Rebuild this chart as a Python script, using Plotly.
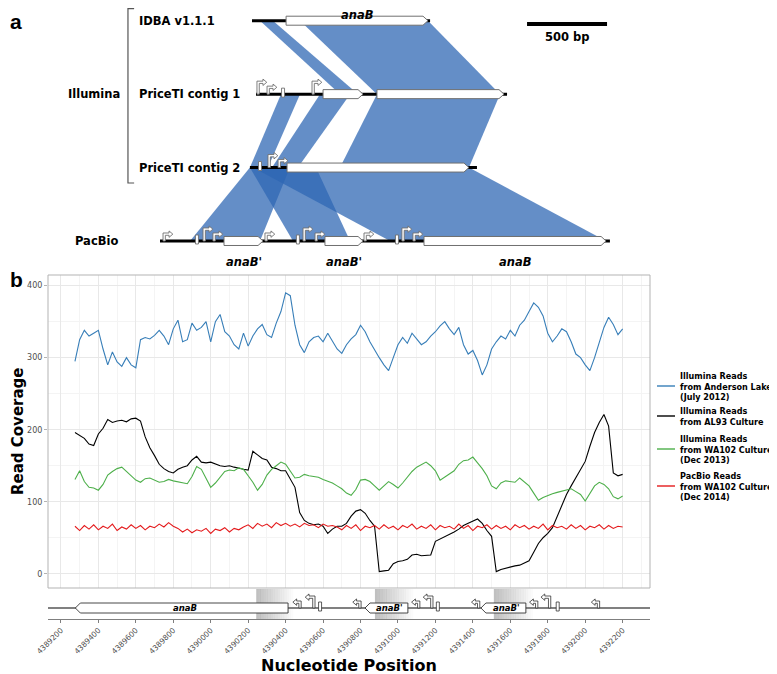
import plotly.graph_objects as go

# the page body keeps an 8 px margin, so the figure is sized to fill the rest of the window
OX, OY = 8, 8
W, H = 777 - OX, 674 - OY

# ---------------- panel b: read coverage (every 25 bp) ----------------
positions = list(range(4389275, 4392201, 25))

anderson_lake = [
    295, 325, 338, 330, 334, 338, 312, 290, 308, 294,
    288, 300, 290, 286, 325, 328, 326, 331, 338, 330,
    318, 340, 352, 322, 325, 348, 338, 342, 350, 322,
    350, 360, 336, 330, 318, 312, 334, 316, 330, 340,
    346, 332, 328, 348, 364, 390, 386, 345, 318, 307,
    322, 328, 330, 322, 334, 323, 312, 306, 318, 326,
    332, 345, 336, 322, 310, 300, 290, 282, 300, 318,
    328, 320, 334, 326, 318, 322, 330, 336, 344, 350,
    340, 332, 342, 318, 305, 310, 296, 276, 290, 312,
    322, 330, 326, 338, 330, 345, 352, 364, 376, 370,
    358, 334, 322, 330, 340, 336, 322, 305, 300, 290,
    282, 300, 320, 342, 356, 346, 332, 340,
]
al93_culture = [
    196, 192, 188, 180, 178, 194, 202, 214, 210, 212,
    213, 211, 215, 216, 212, 190, 175, 164, 152, 146,
    142, 140, 145, 148, 150, 158, 163, 155, 154, 155,
    152, 150, 149, 150, 148, 146, 145, 144, 170, 165,
    160, 158, 148, 146, 143, 143, 132, 120, 85, 74,
    70, 68, 69, 66, 56, 62, 66, 66, 70, 80,
    87, 89, 84, 74, 66, 3, 4, 5, 14, 17,
    18, 20, 26, 27, 25, 25, 26, 45, 48, 51,
    55, 58, 62, 67, 70, 73, 76, 70, 60, 52,
    3, 6, 8, 10, 11, 12, 15, 18, 30, 42,
    50, 56, 64, 80, 96, 110, 122, 134, 146, 156,
    177, 196, 210, 221, 205, 140, 136, 138,
]
wa102_illumina = [
    131, 143, 128, 120, 119, 116, 124, 137, 142, 146,
    148, 142, 135, 130, 127, 132, 133, 130, 127, 128,
    131, 129, 128, 127, 125, 135, 149, 145, 133, 120,
    126, 134, 142, 144, 143, 147, 145, 136, 127, 116,
    124, 137, 145, 150, 155, 152, 142, 133, 134, 138,
    136, 135, 134, 131, 129, 126, 122, 118, 112, 109,
    117, 130, 131, 128, 122, 116, 122, 128, 124, 119,
    126, 134, 142, 148, 152, 155, 150, 143, 130, 134,
    138, 143, 152, 157, 158, 162, 154, 146, 136, 122,
    118, 126, 129, 128, 127, 133, 127, 122, 112, 102,
    106, 109, 111, 113, 115, 117, 118, 114, 110, 101,
    112, 122, 127, 124, 118, 107, 104, 108,
]
wa102_pacbio = [
    66, 60, 67, 62, 68, 61, 66, 63, 69, 60,
    65, 62, 68, 63, 67, 61, 66, 64, 69, 65,
    71, 66, 63, 58, 62, 57, 61, 59, 63, 56,
    62, 60, 64, 58, 63, 61, 65, 68, 63, 70,
    66, 69, 64, 71, 67, 70, 66, 69, 65, 70,
    67, 68, 64, 69, 66, 67, 65, 61, 67, 63,
    68, 60, 66, 64, 67, 62, 68, 63, 66, 61,
    67, 64, 69, 62, 66, 63, 68, 61, 67, 64,
    66, 62, 69, 63, 67, 60, 66, 64, 68, 62,
    67, 63, 66, 61, 68, 64, 67, 62, 66, 63,
    69, 61, 67, 64, 66, 62, 68, 63, 67, 61,
    66, 64, 68, 62, 67, 63, 66, 65,
]

series = [anderson_lake, al93_culture, wa102_illumina, wa102_pacbio]
series_names = [
    'Illumina Reads<br>from Anderson Lake<br>(July 2012)',
    'Illumina Reads<br>from AL93 Culture',
    'Illumina Reads<br>from WA102 Culture<br>(Dec 2013)',
    'PacBio Reads<br>from WA102 Culture<br>(Dec 2014)',
]
series_colors = ['#377EB8', '#000000', '#4DAF4A', '#E41A1C']

# gene track under panel b (genomic coordinates)
b_gene_start = [4389277, 4390824, 4391443]
b_gene_end = [4390413, 4391053, 4391683]
b_gene_label = ['anaB', "anaB'", "anaB'"]
b_feat_pos = [4390483, 4390557, 4390584, 4390803, 4391117, 4391187,
              4391213, 4391437, 4391747, 4391816, 4391853, 4392077]
b_feat_kind = ['short', 'tall', 'term', 'short', 'short', 'tall',
               'term', 'short', 'short', 'tall', 'term', 'short']
b_shade_start = [4390243, 4390877, 4391512]
b_shade_end = [4390440, 4391080, 4391720]

# ---------------- panel a: assemblies (bp along the drawing) ----------------
a_tracks = ['IDBA v1.1.1', 'PriceTI contig 1', 'PriceTI contig 2', 'PacBio']
a_track_start = [575, 600, 562, 0]
a_track_end = [1688, 2169, 1981, 2812]

a_gene_track = [0, 1, 1, 2, 3, 3, 3]
a_gene_start = [788, 1019, 1356, 794, 400, 1031, 1650]
a_gene_end = [1675, 1269, 2150, 1931, 644, 1269, 2788]
a_gene_label = ['anaB', '', '', '', "anaB'", "anaB'", 'anaB']

a_feat_track = [1, 1, 1, 1, 2, 2, 2, 3, 3, 3, 3, 3, 3, 3, 3, 3, 3, 3, 3]
a_feat_pos = [606, 669, 769, 950, 625, 675, 738,
              19, 231, 269, 331, 656, 862, 894, 969, 1275, 1481, 1512, 1581]
a_feat_kind = ['tall', 'short', 'term', 'tall', 'term', 'tall', 'short',
               'short', 'term', 'tall', 'short', 'short', 'term', 'tall', 'short',
               'short', 'term', 'tall', 'short']

# alignments: top track, bottom track, top start/end, bottom start/end
aln_top = [0, 0, 1, 1, 1, 2, 2, 2]
aln_bottom = [1, 1, 2, 2, 2, 3, 3, 3]
aln_top_start = [625, 875, 756, 1000, 1356, 562, 562, 581]
aln_top_end = [706, 1675, 875, 1188, 2125, 812, 975, 1931]
aln_bot_start = [1125, 1356, 562, 700, 1125, 188, 831, 1438]
aln_bot_end = [1238, 2125, 675, 862, 1931, 625, 1188, 2788]

scale_bp = 500

# ---------------- layout helpers (window pixels -> paper) ----------------
def px(v):
    return (v - OX) / W


def py(v):
    return 1 - (v - OY) / H


BP_PX_A = 6.25          # bp per pixel in panel a
TRACK_PX = 73.43        # pixels between assembly rows
BP_PX_B = 200 / 37.5    # bp per pixel in panel b

XB = [4389131, 4392346]
B_DOM = [px(48), px(650)]


def poly(pts, close=True):
    p = 'M ' + ' L '.join(f'{x:.3f},{y:.5f}' for x, y in pts)
    return p + ' Z' if close else p


def gene_box(x0, x1, yc, hh, tip, xs, ys, point):
    t = tip * xs
    if point > 0:
        pts = [(x0, yc - hh * ys), (x1 - t, yc - hh * ys), (x1, yc),
               (x1 - t, yc + hh * ys), (x0, yc + hh * ys)]
    else:
        pts = [(x1, yc - hh * ys), (x0 + t, yc - hh * ys), (x0, yc),
               (x0 + t, yc + hh * ys), (x1, yc + hh * ys)]
    return poly(pts)


def bent_arrow(x0, yc, h, arm, direction, xs, up):
    s, hh, hl = 2.3, 3.2, 3.8
    pts = [(0, 0), (0, h), (arm, h), (arm, h - s / 2 + hh), (arm + hl, h - s / 2),
           (arm, h - s / 2 - hh), (arm, h - s), (s, h - s), (s, 0)]
    return poly([(x0 + direction * dx * xs, yc + dy * up) for dx, dy in pts])


def terminator(x0, yc, xs, up):
    pts = [(-1.5, -3), (-1.5, 6), (1.5, 6), (1.5, -3)]
    return poly([(x0 + dx * xs, yc + dy * up) for dx, dy in pts])


fig = go.Figure()
shapes = []
annotations = []

# ---------------- panel a ----------------
up_a = -1 / TRACK_PX
for i in range(len(aln_top)):
    y0, y1 = aln_top[i], aln_bottom[i]
    shapes.append(dict(
        type='path', xref='x3', yref='y3', layer='below',
        path=poly([(aln_top_start[i], y0), (aln_top_end[i], y0),
                   (aln_bot_end[i], y1), (aln_bot_start[i], y1)]),
        fillcolor='rgba(46,102,179,0.74)', line=dict(width=0),
    ))

for i, name in enumerate(a_tracks):
    fig.add_trace(go.Scatter(
        x=[a_track_start[i], a_track_end[i]], y=[i, i], mode='lines',
        line=dict(color='black', width=3), xaxis='x3', yaxis='y3',
        hoverinfo='skip', showlegend=False,
    ))

for i in range(len(a_gene_start)):
    tr = a_gene_track[i]
    shapes.append(dict(
        type='path', xref='x3', yref='y3',
        path=gene_box(a_gene_start[i], a_gene_end[i], tr, 4.5, 5, BP_PX_A, 1 / TRACK_PX, 1),
        fillcolor='white', line=dict(color='#707070', width=1),
    ))
    if a_gene_label[i]:
        annotations.append(dict(
            x=(a_gene_start[i] + a_gene_end[i]) / 2, y=tr, xref='x3', yref='y3',
            text=a_gene_label[i], showarrow=False, yshift=6 if tr == 0 else -21,
            font=dict(family='DejaVu Sans', size=11.5, color='black',
                      weight='bold', style='italic'),
        ))

for i in range(len(a_feat_pos)):
    tr = a_feat_track[i]
    kind = a_feat_kind[i]
    if kind == 'term':
        path = terminator(a_feat_pos[i], tr, BP_PX_A, up_a)
    elif kind == 'tall':
        path = bent_arrow(a_feat_pos[i], tr, 13, 6, 1, BP_PX_A, up_a)
    else:
        path = bent_arrow(a_feat_pos[i], tr, 8, 6, 1, BP_PX_A, up_a)
    shapes.append(dict(type='path', xref='x3', yref='y3', path=path,
                       fillcolor='white', line=dict(color='#707070', width=0.9)))

label_font = dict(family='DejaVu Sans', size=11.5, color='black', weight='bold')
for i, name in enumerate(a_tracks[:3]):
    annotations.append(dict(x=px(137), y=i, xref='paper', yref='y3', text=name,
                            showarrow=False, xanchor='left', yanchor='middle', font=label_font))
annotations.append(dict(x=px(122), y=1, xref='paper', yref='y3', text='Illumina',
                        showarrow=False, xanchor='right', yanchor='middle', font=label_font))
annotations.append(dict(x=px(120), y=3, xref='paper', yref='y3', text='PacBio',
                        showarrow=False, xanchor='right', yanchor='middle', font=label_font))
shapes.append(dict(type='path', xref='paper', yref='paper',
                   path=poly([(px(134), py(8.6)), (px(128), py(8.6)),
                              (px(128), py(183)), (px(134), py(183))], close=False),
                   line=dict(color='#555555', width=1.2)))

# scale bar
shapes.append(dict(type='line', xref='x3', yref='paper', x0=2294, x1=2294 + scale_bp,
                   y0=py(24), y1=py(24), line=dict(color='black', width=4)))
annotations.append(dict(x=2294 + scale_bp / 2, y=py(37), xref='x3', yref='paper',
                        text=f'{scale_bp} bp', showarrow=False, xanchor='center',
                        yanchor='middle', font=label_font))

# panel letters
letter_font = dict(family='Liberation Sans', size=21, color='black', weight='bold')
annotations.append(dict(x=px(8), y=py(8), xref='paper', yref='paper', text='a',
                        showarrow=False, xanchor='left', yanchor='top', font=letter_font))
annotations.append(dict(x=px(8), y=py(266), xref='paper', yref='paper', text='b',
                        showarrow=False, xanchor='left', yanchor='top', font=letter_font))

# ---------------- panel b: coverage ----------------
for vals, name, color in zip(series, series_names, series_colors):
    fig.add_trace(go.Scatter(
        x=positions, y=vals, mode='lines', name=name,
        line=dict(color=color, width=1.1), showlegend=False,
    ))

shapes.append(dict(type='rect', xref='x domain', yref='y domain', x0=0, x1=1, y0=0, y1=1,
                   line=dict(color='#b3b3b3', width=1)))

# manual legend
legend_y = [386, 416, 449, 486]
leg_font = dict(family='DejaVu Sans', size=8.1, color='black', weight='bold')
for name, color, ly in zip(series_names, series_colors, legend_y):
    shapes.append(dict(type='line', xref='paper', yref='paper', x0=px(657), x1=px(675),
                       y0=py(ly), y1=py(ly), line=dict(color=color, width=1.4)))
    annotations.append(dict(x=px(678), y=py(ly), xref='paper', yref='paper', text=name,
                            showarrow=False, xanchor='left', yanchor='middle', align='left',
                            font=leg_font))

# ---------------- panel b: gene track ----------------
fig.add_trace(go.Scatter(x=b_gene_start, y=[0] * len(b_gene_start), mode='markers',
                         marker=dict(opacity=0), xaxis='x2', yaxis='y2',
                         hoverinfo='skip', showlegend=False))

n_strip = 16
for s0, s1 in zip(b_shade_start, b_shade_end):
    step = (s1 - s0) / n_strip
    for k in range(n_strip):
        shapes.append(dict(type='rect', xref='x2', yref='y2', layer='below',
                           x0=s0 + k * step, x1=s0 + (k + 1) * step + 1, y0=-11, y1=19,
                           fillcolor=f'rgba(150,150,150,{0.6 * (1 - k / n_strip):.3f})',
                           line=dict(width=0)))

shapes.append(dict(type='line', xref='x2 domain', yref='y2', x0=0, x1=1, y0=0, y1=0,
                   line=dict(color='#808080', width=2)))

for i in range(len(b_gene_start)):
    shapes.append(dict(type='path', xref='x2', yref='y2',
                       path=gene_box(b_gene_start[i], b_gene_end[i], 0, 5, 5, BP_PX_B, 1, -1),
                       fillcolor='white', line=dict(color='#333333', width=0.9)))
    annotations.append(dict(x=(b_gene_start[i] + b_gene_end[i]) / 2 + 3 * BP_PX_B, y=0,
                            xref='x2', yref='y2', text=b_gene_label[i], showarrow=False,
                            font=dict(family='DejaVu Sans', size=8.5, color='black',
                                      weight='bold', style='italic')))

for pos, kind in zip(b_feat_pos, b_feat_kind):
    if kind == 'term':
        path = terminator(pos, 0, BP_PX_B, 1)
    elif kind == 'tall':
        path = bent_arrow(pos, 0, 12, 6, -1, BP_PX_B, 1)
    else:
        path = bent_arrow(pos, 0, 7, 4.5, -1, BP_PX_B, 1)
    shapes.append(dict(type='path', xref='x2', yref='y2', path=path,
                       fillcolor='white', line=dict(color='#333333', width=0.8)))

# axis titles
annotations.append(dict(x=px(349), y=py(665), xref='paper', yref='paper',
                        text='Nucleotide Position', showarrow=False,
                        xanchor='center', yanchor='middle',
                        font=dict(family='DejaVu Sans', size=16, color='black', weight='bold')))
annotations.append(dict(x=px(18), y=py(431), xref='paper', yref='paper',
                        text='Read Coverage', showarrow=False, textangle=-90,
                        xanchor='center', yanchor='middle',
                        font=dict(family='DejaVu Sans', size=15, color='black', weight='bold')))

fig.update_layout(
    width=W, height=H, autosize=False,
    margin=dict(l=0, r=0, t=0, b=0, pad=0, autoexpand=False),
    paper_bgcolor='white', plot_bgcolor='white',
    showlegend=False,
    xaxis=dict(domain=B_DOM, anchor='y', range=XB, showticklabels=False, ticks='',
               tick0=4389200, dtick=200, showgrid=True, gridcolor='#e8e8e8', gridwidth=0.8,
               minor=dict(dtick=100, showgrid=True, gridcolor='#f4f4f4', gridwidth=0.5),
               zeroline=False, showline=False, automargin=False),
    yaxis=dict(domain=[py(588), py(275)], anchor='x', range=[-19.75, 414.75],
               tickvals=[0, 100, 200, 300, 400], ticks='outside', ticklen=3,
               tickcolor='#b3b3b3', tickfont=dict(family='DejaVu Sans', size=8, color='#4d4d4d'),
               showgrid=True, gridcolor='#e8e8e8', gridwidth=0.8,
               minor=dict(tickvals=[50, 150, 250, 350], showgrid=True,
                          gridcolor='#f4f4f4', gridwidth=0.5),
               zeroline=False, showline=False, automargin=False),
    xaxis2=dict(domain=B_DOM, anchor='y2', range=XB, showline=True, linecolor='#7f7f7f',
                linewidth=1, ticks='outside', ticklen=3, tickcolor='#7f7f7f',
                tick0=4389200, dtick=200, tickformat='d', tickangle=-45,
                tickfont=dict(family='DejaVu Sans', size=7.5, color='#4d4d4d'),
                showgrid=False, zeroline=False, automargin=False),
    yaxis2=dict(domain=[py(619), py(589)], anchor='x2', range=[-11, 19],
                visible=False, fixedrange=True, automargin=False),
    xaxis3=dict(domain=[0, 1], anchor='y3', range=[(OX - 160) * BP_PX_A, (777 - 160) * BP_PX_A],
                visible=False, automargin=False),
    yaxis3=dict(domain=[py(270), 1], anchor='x3',
                range=[(270 - 20.7) / TRACK_PX, (OY - 20.7) / TRACK_PX],
                visible=False, automargin=False),
    shapes=shapes,
    annotations=annotations,
)

fig.write_html('out.html')
